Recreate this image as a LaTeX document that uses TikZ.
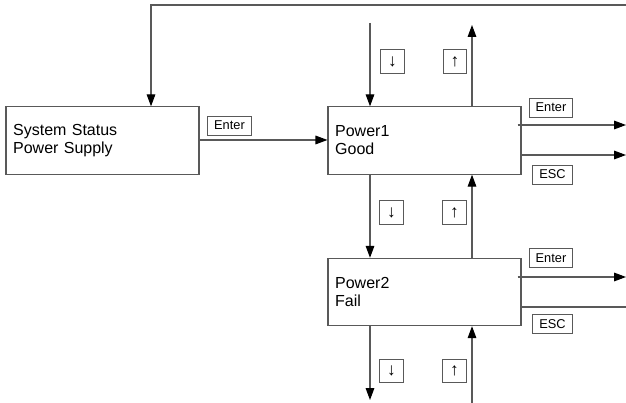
\documentclass[tikz,border=0pt]{standalone}
\usepackage{fontspec}
\setmainfont{Liberation Sans}
\usepackage{tikz}
\usetikzlibrary{arrows.meta,calc}

\tikzset{
  screen/.style={draw=black!65, line width=0.8pt, rectangle, minimum width=144.75pt,
    minimum height=50.5pt, text width=134pt, align=left, inner xsep=4.5pt,
    font=\fontsize{12}{13.5}\selectfont},
  key/.style={draw=black!65, line width=0.7pt, rectangle, minimum height=14.25pt,
    inner xsep=4.9pt, inner ysep=0pt, font=\fontsize{9.6}{10}\selectfont},
  arrkey/.style={key, minimum width=17.5pt, minimum height=17.5pt, inner xsep=0pt,
    font=\fontsize{13}{13}\selectfont},
  arr/.style={draw=black!65, line width=0.8pt, -{Triangle[length=9pt,width=6.5pt,color=black]}},
  line/.style={draw=black!65, line width=0.8pt}
}

\begin{document}
\begin{tikzpicture}[x=0.75pt,y=-0.75pt]
	\useasboundingbox (0,0) rectangle (626,403);
	% Screens
	\node[screen] (status) at (102.5,140.5) {System Status\\Power Supply};
	\node[screen] (pwr1) at (424.5,140.5) {Power1\\Good};
	\node[screen] (pwr2) at (424.5,292) {Power2\\Fail};
	% Free ends
	\coordinate (loop) at (626,5);
	\coordinate (in1) at (370,23);
	\coordinate (out1) at (472,25);
	\coordinate (in3) at (370,400);
	\coordinate (out3) at (472,403);
	\coordinate (ent1) at (626,125);
	\coordinate (esc1) at (626,155);
	\coordinate (ent2) at (626,277);
	\coordinate (esc2) at (626,307);
	% Loop back to the first screen
	\draw[arr] (loop) -| ($(status.north west)!0.75!(status.north east)$);
	\draw[arr] (status.east |- ent1) ++(0,15) coordinate (s1) -- (pwr1.west |- s1);
	% Up and down keys
	\draw[arr] (in1) -- (in1 |- pwr1.north);
	\draw[arr] (out1 |- pwr1.north) -- (out1);
	\draw[arr] (in1 |- pwr1.south) -- (in1 |- pwr2.north);
	\draw[arr] (out1 |- pwr2.north) -- (out1 |- pwr1.south);
	\draw[arr] (in1 |- pwr2.south) -- (in3);
	\draw[arr] (out3) -- (out1 |- pwr2.south);
	% Enter and ESC exits
	\draw[arr] ($(pwr1.east |- ent1)+(-4,0)$) -- (ent1);
	\draw[arr] (pwr1.east |- esc1) -- (esc1);
	\draw[arr] ($(pwr2.east |- ent2)+(-4,0)$) -- (ent2);
	\draw[line] (pwr2.east |- esc2) -- (esc2);
	% Key labels
	\node[key] (kent0) at (229.5,125.5) {Enter};
	\node[key] (kent1) at (551,107.5) {Enter};
	\node[key] (kesc1) at (552.5,174.5) {ESC};
	\node[key] (kent2) at (551,258) {Enter};
	\node[key] (kesc2) at (552.5,324) {ESC};
	\node[arrkey] (kdn1) at (392.5,61.5) {↓};
	\node[arrkey] (kup1) at (455,61.5) {↑};
	\node[arrkey] (kdn2) at (391.5,212.5) {↓};
	\node[arrkey] (kup2) at (454.5,212.5) {↑};
	\node[arrkey] (kdn3) at (391.5,371) {↓};
	\node[arrkey] (kup3) at (454.5,371) {↑};
\end{tikzpicture}
\end{document}
